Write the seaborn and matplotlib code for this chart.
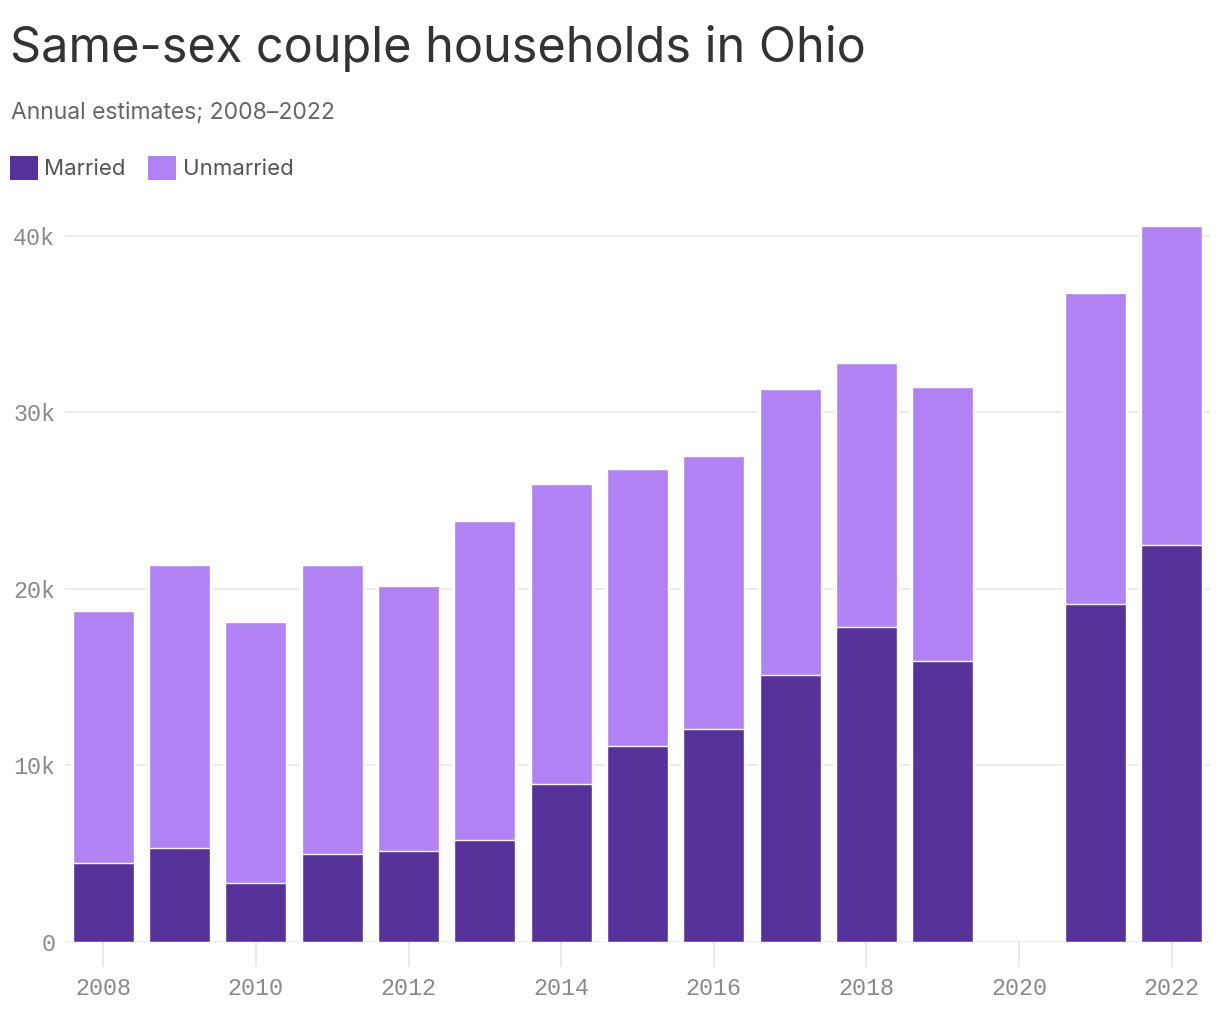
import numpy as np
import pandas as pd
import matplotlib
matplotlib.use("Agg")
import matplotlib.pyplot as plt
import seaborn as sns
from matplotlib.patches import Patch

years = ["2008", "2009", "2010", "2011", "2012", "2013", "2014", "2015",
         "2016", "2017", "2018", "2019", "2020", "2021", "2022"]
married = [4500, 5340, 3370, 4960, 5130, 5790, 8960, 11130, 12080,
           15140, 17850, 15930, np.nan, 19150, 22500]
unmarried = [14250, 16010, 14760, 16390, 15040, 18070, 16990, 15670, 15450,
             16210, 14970, 15530, np.nan, 17620, 18060]
xtick_labels = ["2008", "2010", "2012", "2014", "2016", "2018", "2020", "2022"]
ytick_values = [0, 10000, 20000, 30000, 40000]
ytick_labels = ["0", "10k", "20k", "30k", "40k"]

c_married = "#56329b"
c_unmarried = "#b182f3"

df = pd.DataFrame({"year": years, "Married": married, "Unmarried": unmarried})
df["Total"] = df["Married"] + df["Unmarried"]
dfp = df.dropna()

sns.set_theme(style="white")
plt.rcParams["font.family"] = ["Inter", "DejaVu Sans"]

fig = plt.figure(figsize=(12.2, 10.18), dpi=100)
ax = fig.add_axes([65 / 1220, 76 / 1018, (1210 - 65) / 1220, (942 - 226) / 1018])

# white backing to separate gridlines from bars
sns.barplot(data=dfp, x="year", y="Total", order=years, color="white",
            edgecolor="white", linewidth=3.2, width=0.8, errorbar=None,
            saturation=1, ax=ax, zorder=2)
sns.barplot(data=dfp, x="year", y="Total", order=years, color=c_unmarried,
            edgecolor="white", linewidth=1.0, width=0.8, errorbar=None,
            saturation=1, ax=ax, zorder=3)
sns.barplot(data=dfp, x="year", y="Married", order=years, color=c_married,
            edgecolor="white", linewidth=1.0, width=0.8, errorbar=None,
            saturation=1, ax=ax, zorder=4)

ax.set_xlim(-0.5, len(years) - 0.5)
ax.set_ylim(0, 40560)
ax.set_xlabel("")
ax.set_ylabel("")
for s in ax.spines.values():
    s.set_visible(False)

ax.set_yticks(ytick_values)
ax.set_yticklabels(ytick_labels)
ax.yaxis.grid(True, color="#e6e6e6", linewidth=1.1, zorder=0)
ax.set_axisbelow(True)

xpos = [years.index(y) for y in xtick_labels]
ax.set_xticks(xpos)
ax.set_xticklabels(xtick_labels)

ax.tick_params(axis="x", length=18, width=1.1, color="#e3e3e3", pad=7,
               labelsize=16.8, labelcolor="#8a8a8a", bottom=True, direction="out")
ax.tick_params(axis="y", length=0, pad=7, labelsize=16.8, labelcolor="#8a8a8a", left=True)
for lab in ax.get_xticklabels() + ax.get_yticklabels():
    lab.set_family(["Liberation Mono", "DejaVu Sans Mono"])

fig.text(10 / 1220, 1 - 62 / 1018, "Same-sex couple households in Ohio",
         fontsize=35, color="#333333", va="baseline", ha="left")
fig.text(11 / 1220, 1 - 119 / 1018, "Annual estimates; 2008–2022",
         fontsize=16.5, color="#666666", va="baseline", ha="left")

handles = [Patch(facecolor=c_married, edgecolor="none"),
           Patch(facecolor=c_unmarried, edgecolor="none")]
fig.legend(handles, ["Married", "Unmarried"], loc="center left",
           bbox_to_anchor=(10 / 1220, 1 - 168 / 1018), ncol=2, frameon=False,
           fontsize=16, labelcolor="#555555", handlelength=1.25, handleheight=1.25,
           handletextpad=0.3, columnspacing=1.0, borderpad=0, borderaxespad=0)

fig.savefig("out.png", dpi=100, facecolor="white")
